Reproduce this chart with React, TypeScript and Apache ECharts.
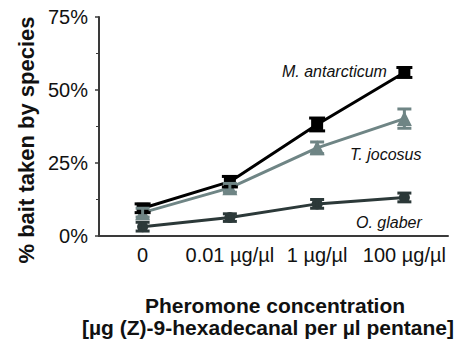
import React, { useEffect, useRef } from "react";
import * as echarts from "echarts";

const categories = ["0", "0.01 µg/µl", "1 µg/µl", "100 µg/µl"];
const mAntarcticum = [9.5, 18.6, 38.2, 56.0];
const mAntarcticumErr = [1.5, 1.8, 2.2, 1.7];
const tJocosus = [8.0, 16.5, 30.2, 40.2];
const tJocosusErr = [1.5, 1.5, 2.0, 3.3];
const oGlaber = [3.2, 6.3, 11.0, 13.2];
const oGlaberErr = [1.5, 1.3, 1.5, 1.5];
const yTicks = [0, 25, 50, 75];

const FONT = "Liberation Sans, Arial, sans-serif";
const C_M = "#000000";
const C_T = "#6f8585";
const C_O = "#2c3939";

function errorSeries(name: string, vals: number[], errs: number[], color: string, half: number) {
  return {
    type: "custom",
    name: name + " err",
    z: 5,
    data: vals.map((v, i) => [i, v - errs[i], v + errs[i]]),
    renderItem: (params: any, api: any) => {
      const x = api.value(0);
      const lo = api.coord([x, api.value(1)]);
      const hi = api.coord([x, api.value(2)]);
      const st = { stroke: color, lineWidth: 3 };
      return {
        type: "group",
        children: [
          { type: "line", shape: { x1: lo[0], y1: lo[1], x2: hi[0], y2: hi[1] }, style: st },
          { type: "line", shape: { x1: lo[0] - half, y1: lo[1], x2: lo[0] + half, y2: lo[1] }, style: st },
          { type: "line", shape: { x1: hi[0] - half, y1: hi[1], x2: hi[0] + half, y2: hi[1] }, style: st },
        ],
      };
    },
  };
}

export default function App() {
  const ref = useRef<HTMLDivElement>(null);
  useEffect(() => {
    const chart = echarts.init(ref.current!, null, { renderer: "svg" });
    const axisCol = "#3a3a3a";
    chart.setOption({
      animation: false,
      grid: { left: 99, right: 22, top: 17, bottom: 109 },
      xAxis: {
        type: "category",
        data: categories,
        boundaryGap: true,
        axisLine: { lineStyle: { color: axisCol, width: 2 } },
        axisTick: { alignWithLabel: true, length: 5, lineStyle: { color: axisCol, width: 1.5 } },
        axisLabel: { color: "#111", fontSize: 20, fontFamily: FONT, margin: 9, interval: 0 },
      },
      yAxis: {
        type: "value",
        min: yTicks[0],
        max: yTicks[yTicks.length - 1],
        interval: 25,
        axisLine: { show: true, lineStyle: { color: axisCol, width: 2 } },
        axisTick: { show: true, length: 4, lineStyle: { color: axisCol, width: 1.5 } },
        minorTick: { show: true, splitNumber: 2, length: 3, lineStyle: { color: axisCol, width: 1 } },
        splitLine: { show: false },
        axisLabel: { color: "#111", fontSize: 20, fontFamily: FONT, formatter: "{value}%", margin: 11 },
      },
      series: [
        errorSeries("M. antarcticum", mAntarcticum, mAntarcticumErr, C_M, 8),
        errorSeries("T. jocosus", tJocosus, tJocosusErr, C_T, 7),
        errorSeries("O. glaber", oGlaber, oGlaberErr, C_O, 7),
        {
          type: "line",
          name: "O. glaber",
          data: oGlaber,
          symbol: "circle",
          symbolSize: 11,
          lineStyle: { color: C_O, width: 3 },
          itemStyle: { color: C_O },
        },
        {
          type: "line",
          name: "T. jocosus",
          data: tJocosus,
          symbol: "triangle",
          symbolSize: 15,
          lineStyle: { color: C_T, width: 3 },
          itemStyle: { color: C_T },
        },
        {
          type: "line",
          name: "M. antarcticum",
          data: mAntarcticum,
          symbol: "rect",
          symbolSize: [12, 11],
          lineStyle: { color: C_M, width: 3 },
          itemStyle: { color: C_M },
        },
      ],
      graphic: [
        {
          type: "text",
          x: 26,
          y: 140,
          rotation: Math.PI / 2,
          style: {
            text: "% bait taken by species",
            font: "bold 22px " + FONT,
            fill: "#111",
            align: "center",
            verticalAlign: "middle",
          },
        },
        {
          type: "text",
          x: 275,
          y: 305,
          style: { text: "Pheromone concentration", font: "bold 21px " + FONT, fill: "#111", align: "center", verticalAlign: "middle" },
        },
        {
          type: "text",
          x: 268,
          y: 327,
          style: { text: "[µg (Z)-9-hexadecanal per µl pentane]", font: "bold 21px " + FONT, fill: "#111", align: "center", verticalAlign: "middle" },
        },
        { type: "text", x: 282, y: 71, style: { text: "M. antarcticum", font: "italic 16px " + FONT, fill: "#111", verticalAlign: "middle" } },
        { type: "text", x: 350, y: 154, style: { text: "T. jocosus", font: "italic 16px " + FONT, fill: "#111", verticalAlign: "middle" } },
        { type: "text", x: 356, y: 222, style: { text: "O. glaber", font: "italic 16px " + FONT, fill: "#111", verticalAlign: "middle" } },
      ],
    });
    return () => chart.dispose();
  }, []);
  return <div ref={ref} style={{ width: 470, height: 345, position: "absolute", left: 0, top: 0 }} />;
}
